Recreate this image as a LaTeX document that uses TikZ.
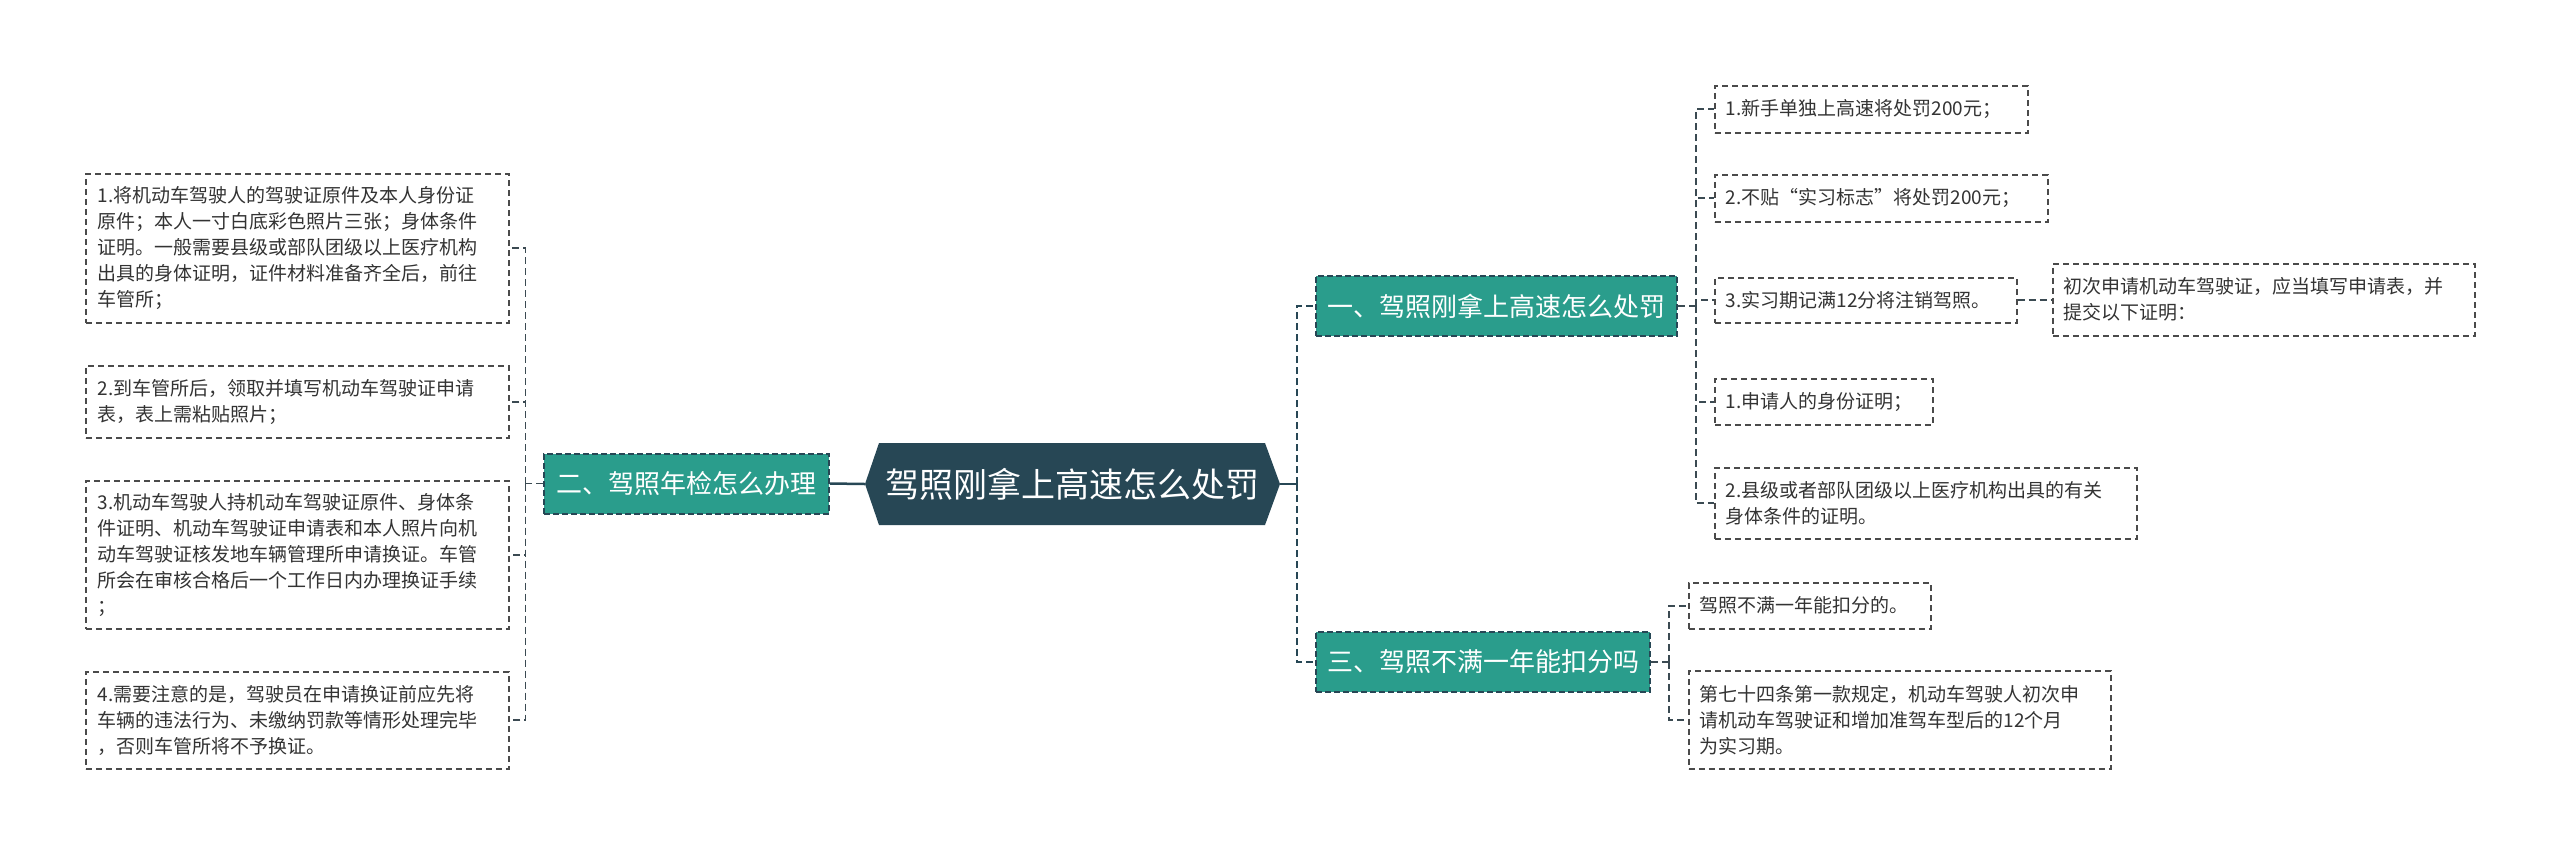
\documentclass[tikz,border=0pt]{standalone}
\usepackage{fontspec}
\newfontfamily\cjk{Noto Sans CJK SC}
\definecolor{hexcol}{HTML}{274755}
\definecolor{tealc}{HTML}{2A9D8C}
\definecolor{leafline}{HTML}{4A4A4A}
\definecolor{conncol}{HTML}{3B4A52}
\definecolor{textcol}{HTML}{333333}
\begin{document}
\begin{tikzpicture}[x=1pt,y=-1pt,
  leaf/.style={draw=leafline, line width=1.5pt, dash pattern=on 6pt off 4pt,
    font=\cjk\fontsize{19}{26}\selectfont, text=textcol, align=left,
    inner xsep=12pt, inner ysep=0pt, anchor=north west},
  rleaf/.style={leaf, inner xsep=11pt},
  branch/.style={fill=tealc, draw=hexcol, line width=2pt, dash pattern=on 6pt off 3pt,
    text=white, font=\cjk\fontsize{26}{30}\selectfont, inner sep=0pt},
  mainconn/.style={draw=hexcol, line width=2.5pt, dash pattern=on 7pt off 4pt},
  solidconn/.style={draw=hexcol, line width=2.5pt},
  leafconn/.style={draw=conncol, line width=1.6pt, dash pattern=on 7pt off 4pt}
]
\useasboundingbox (0,0) rectangle (2560,855);
\fill[white] (0,0) rectangle (2560,855);

% central hexagon
\fill[hexcol] (865,484) -- (879,443) -- (1265,443) -- (1280,484) -- (1265,525) -- (879,525) -- cycle;
\node[minimum width=415pt, minimum height=82pt, inner sep=0pt, text=white,
  font=\cjk\fontsize{34}{40}\selectfont] (root) at (1072.5,484) {驾照刚拿上高速怎么处罚};

% branches
\node[branch, minimum width=285pt, minimum height=60pt] (b2) at (686.5,483.5) {二、驾照年检怎么办理};
\node[branch, minimum width=361pt, minimum height=60pt] (b1) at (1496.5,306) {一、驾照刚拿上高速怎么处罚};
\node[branch, minimum width=334pt, minimum height=60pt] (b3) at (1483,662) {三、驾照不满一年能扣分吗};

% left leaves
\node[leaf, text width=399pt, minimum height=149pt] (l1) at (85,173) {1.将机动车驾驶人的驾驶证原件及本人身份证\\原件；本人一寸白底彩色照片三张；身体条件\\证明。一般需要县级或部队团级以上医疗机构\\出具的身体证明，证件材料准备齐全后，前往\\车管所；};
\node[leaf, text width=399pt, minimum height=72pt] (l2) at (85,365) {2.到车管所后，领取并填写机动车驾驶证申请\\表，表上需粘贴照片；};
\node[leaf, text width=399pt, minimum height=148pt] (l3) at (85,480) {3.机动车驾驶人持机动车驾驶证原件、身体条\\件证明、机动车驾驶证申请表和本人照片向机\\动车驾驶证核发地车辆管理所申请换证。车管\\所会在审核合格后一个工作日内办理换证手续\\；};
\node[leaf, text width=399pt, minimum height=97pt] (l4) at (85,671) {4.需要注意的是，驾驶员在申请换证前应先将\\车辆的违法行为、未缴纳罚款等情形处理完毕\\，否则车管所将不予换证。};

% right leaves of branch 1
\node[rleaf, text width=291pt, minimum height=47pt] (c1) at (1714,85) {1.新手单独上高速将处罚200元；};
\node[rleaf, text width=311pt, minimum height=47pt] (c2) at (1714,174) {2.不贴“实习标志”将处罚200元；};
\node[rleaf, text width=280pt, minimum height=45pt] (c3) at (1714,277) {3.实习期记满12分将注销驾照。};
\node[rleaf, text width=400pt, minimum height=72pt] (c3x) at (2052,263) {初次申请机动车驾驶证，应当填写申请表，并\\提交以下证明：};
\node[rleaf, text width=196pt, minimum height=46pt] (c4) at (1714,378) {1.申请人的身份证明；};
\node[rleaf, text width=400pt, minimum height=71pt] (c5) at (1714,467) {2.县级或者部队团级以上医疗机构出具的有关\\身体条件的证明。};

% right leaves of branch 3
\node[rleaf, text width=220pt, minimum height=46pt] (d1) at (1688,582) {驾照不满一年能扣分的。};
\node[rleaf, text width=400pt, minimum height=98pt] (d2) at (1688,670) {第七十四条第一款规定，机动车驾驶人初次申\\请机动车驾驶证和增加准驾车型后的12个月\\为实习期。};

% connectors
\coordinate (jL) at (525.5,483.5);
\coordinate (jR) at (1297,484);
\coordinate (j1) at (1696,306);
\coordinate (j3) at (1669,662);

\draw[solidconn] (root.west) -- (b2.east);
\draw[leafconn] (b2.west) -- (jL);
\draw[leafconn] (jL) |- (l1.east);
\draw[leafconn] (jL) |- (l2.east);
\draw[leafconn] (jL) |- (l3.east);
\draw[leafconn] (jL) |- (l4.east);

\draw[solidconn] (root.east) -- (jR);
\draw[mainconn] (jR) |- (b1.west);
\draw[mainconn] (jR) |- (b3.west);

\draw[leafconn] (b1.east) -- (j1);
\draw[leafconn] (j1) |- (c1.west);
\draw[leafconn] (j1) |- (c2.west);
\draw[leafconn] (j1) |- (c3.west);
\draw[leafconn] (j1) |- (c4.west);
\draw[leafconn] (j1) |- (c5.west);
\draw[leafconn] (c3.east) -- (c3.east -| c3x.west);

\draw[leafconn] (b3.east) -- (j3);
\draw[leafconn] (j3) |- (d1.west);
\draw[leafconn] (j3) |- (d2.west);
\end{tikzpicture}
\end{document}
